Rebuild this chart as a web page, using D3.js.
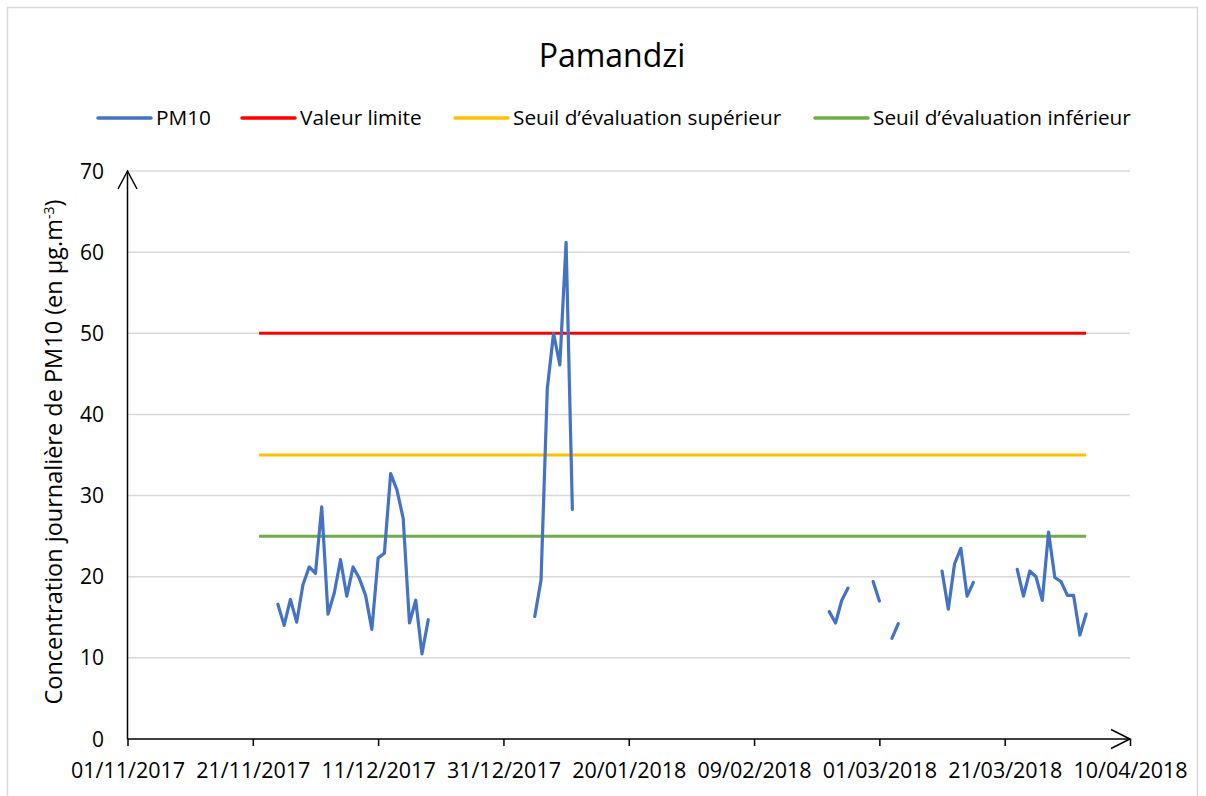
<!DOCTYPE html>
<html>
<head>
<meta charset="utf-8">
<script src="https://cdn.jsdelivr.net/npm/d3@7"></script>
<style>
  body { margin: 0; background: #fff; }
  text { font-family: "Open Sans", sans-serif; fill: #000; }
</style>
</head>
<body>
<svg id="Viz" width="1206" height="796"></svg>
<script>
// data
var xTickLabels = ["01/11/2017", "21/11/2017", "11/12/2017", "31/12/2017", "20/01/2018",
                   "09/02/2018", "01/03/2018", "21/03/2018", "10/04/2018"];
var yTicks = [0, 10, 20, 30, 40, 50, 60, 70];

var seriesStart = "22/11/2017",
    seriesEnd = "03/04/2018";

var pm10Dates = [
  "25/11/2017", "26/11/2017", "27/11/2017", "28/11/2017", "29/11/2017", "30/11/2017",
  "01/12/2017", "02/12/2017", "03/12/2017", "04/12/2017", "05/12/2017", "06/12/2017",
  "07/12/2017", "08/12/2017", "09/12/2017", "10/12/2017", "11/12/2017", "12/12/2017",
  "13/12/2017", "14/12/2017", "15/12/2017", "16/12/2017", "17/12/2017", "18/12/2017",
  "19/12/2017",
  "05/01/2018", "06/01/2018", "07/01/2018", "08/01/2018", "09/01/2018", "10/01/2018",
  "11/01/2018",
  "21/02/2018", "22/02/2018", "23/02/2018", "24/02/2018",
  "28/02/2018", "01/03/2018",
  "03/03/2018", "04/03/2018",
  "11/03/2018", "12/03/2018", "13/03/2018", "14/03/2018", "15/03/2018", "16/03/2018",
  "23/03/2018", "24/03/2018", "25/03/2018", "26/03/2018", "27/03/2018", "28/03/2018",
  "29/03/2018", "30/03/2018", "31/03/2018", "01/04/2018", "02/04/2018", "03/04/2018"
];
var pm10Values = [
  16.6, 14.0, 17.2, 14.4, 19.0, 21.2,
  20.4, 28.6, 15.4, 18.0, 22.1, 17.6,
  21.2, 19.8, 17.7, 13.5, 22.3, 22.9,
  32.7, 30.7, 27.2, 14.3, 17.1, 10.5,
  14.7,
  15.1, 19.6, 43.2, 50.0, 46.1, 61.2,
  28.3,
  15.7, 14.3, 17.1, 18.6,
  19.4, 17.0,
  12.4, 14.2,
  20.7, 16.0, 21.6, 23.5, 17.6, 19.3,
  20.9, 17.6, 20.7, 20.0, 17.1, 25.5,
  19.9, 19.4, 17.7, 17.7, 12.8, 15.4
];

var seriesNames = ["PM10", "Valeur limite", "Seuil d\u2019évaluation supérieur", "Seuil d\u2019évaluation inférieur"];
var seriesColors = ["#4472C4", "#FF0000", "#FFC000", "#70AD47"];
var thresholds = [50, 35, 25];

var svg = d3.select("#Viz"),
    width = +svg.attr("width"),
    height = +svg.attr("height");

var parse = d3.utcParse("%d/%m/%Y");
var fmt = d3.utcFormat("%d/%m/%Y");

var x0 = 127.5, x1 = 1130, y0 = 739, y1 = 171;

var xTickDates = xTickLabels.map(parse);
var x = d3.scaleUtc()
  .domain([xTickDates[0], xTickDates[xTickDates.length - 1]])
  .range([x0, x1]);
var y = d3.scaleLinear().domain([0, 70]).range([y0, y1]);

// daily series with gaps
var lookup = {};
pm10Dates.forEach(function(d, i) { lookup[d] = pm10Values[i]; });
var days = d3.utcDay.range(parse(seriesStart), d3.utcDay.offset(parse(seriesEnd), 1));
var daily = days.map(function(d) {
  var v = lookup[fmt(d)];
  return { date: d, value: v === undefined ? null : v };
});

// chart border
svg.append("rect")
  .attr("x", 7.5).attr("y", 7.5)
  .attr("width", 1190).attr("height", 800)
  .attr("fill", "none")
  .attr("stroke", "#d9d9d9")
  .attr("stroke-width", 1.5);

// title
svg.append("text")
  .attr("x", 612).attr("y", 67)
  .attr("text-anchor", "middle")
  .style("font-size", "32px")
  .text("Pamandzi");

// gridlines
svg.append("g").selectAll("line")
  .data(yTicks.filter(function(d) { return d > 0; }))
  .enter().append("line")
  .attr("x1", x0).attr("x2", x1)
  .attr("y1", function(d) { return y(d); })
  .attr("y2", function(d) { return y(d); })
  .attr("stroke", "#d9d9d9")
  .attr("stroke-width", 1.5);

// y labels
svg.append("g").selectAll("text")
  .data(yTicks)
  .enter().append("text")
  .attr("x", 104)
  .attr("y", function(d) { return y(d); })
  .attr("dy", "0.36em")
  .attr("text-anchor", "end")
  .style("font-size", "21px")
  .text(function(d) { return d; });

// x axis
var xAxis = d3.axisBottom(x)
  .tickValues(xTickDates)
  .tickFormat(fmt)
  .tickSizeInner(7)
  .tickSizeOuter(0);

var gx = svg.append("g")
  .attr("transform", "translate(0," + y0 + ")")
  .call(xAxis);
gx.select(".domain").remove();
gx.selectAll(".tick line").attr("stroke", "#000").attr("stroke-width", 1.5);
gx.selectAll(".tick text")
  .attr("y", 24)
  .style("font-size", "21.5px")
  .style("font-family", "'Open Sans', sans-serif");

// axis lines with arrows
svg.append("line")
  .attr("x1", x0).attr("x2", x1)
  .attr("y1", y0).attr("y2", y0)
  .attr("stroke", "#000").attr("stroke-width", 1.5);
svg.append("path")
  .attr("d", "M" + (x1 - 19) + "," + (y0 - 9.5) + "L" + x1 + "," + y0 + "L" + (x1 - 19) + "," + (y0 + 9.5))
  .attr("fill", "none").attr("stroke", "#000").attr("stroke-width", 1.5);
svg.append("line")
  .attr("x1", x0).attr("x2", x0)
  .attr("y1", y0).attr("y2", y1)
  .attr("stroke", "#000").attr("stroke-width", 1.5);
svg.append("path")
  .attr("d", "M" + (x0 - 9.5) + "," + (y1 + 18) + "L" + x0 + "," + y1 + "L" + (x0 + 9.5) + "," + (y1 + 18))
  .attr("fill", "none").attr("stroke", "#000").attr("stroke-width", 1.5);

// threshold lines
var line = d3.line()
  .defined(function(d) { return d.value !== null; })
  .x(function(d) { return x(d.date); })
  .y(function(d) { return y(d.value); });

thresholds.forEach(function(t, i) {
  svg.append("path")
    .datum(days.map(function(d) { return { date: d, value: t }; }))
    .attr("d", line)
    .attr("fill", "none")
    .attr("stroke", seriesColors[i + 1])
    .attr("stroke-width", 3);
});

// PM10
svg.append("path")
  .datum(daily)
  .attr("d", line)
  .attr("fill", "none")
  .attr("stroke", seriesColors[0])
  .attr("stroke-width", 3.2)
  .attr("stroke-linejoin", "round")
  .attr("stroke-linecap", "round");

// y axis title
svg.append("text")
  .attr("transform", "translate(62," + ((y0 + y1) / 2 - 3) + ") rotate(-90)")
  .attr("text-anchor", "middle")
  .style("font-size", "23.5px")
  .html("Concentration journalière de PM10 (en µg.m<tspan dy='-8' style='font-size:14px'>-3</tspan><tspan dy='8'>)</tspan>");

// legend
var legendX = [98, 242, 455, 815];
var legend = svg.append("g").selectAll("g")
  .data(seriesNames)
  .enter().append("g")
  .attr("transform", function(d, i) { return "translate(" + legendX[i] + ",118)"; });
legend.append("line")
  .attr("x1", 0).attr("x2", 53)
  .attr("stroke", function(d, i) { return seriesColors[i]; })
  .attr("stroke-width", 3.5)
  .attr("stroke-linecap", "round");
legend.append("text")
  .attr("x", 58)
  .attr("dy", "0.35em")
  .style("font-size", "20.8px")
  .text(function(d) { return d; });
</script>
</body>
</html>
